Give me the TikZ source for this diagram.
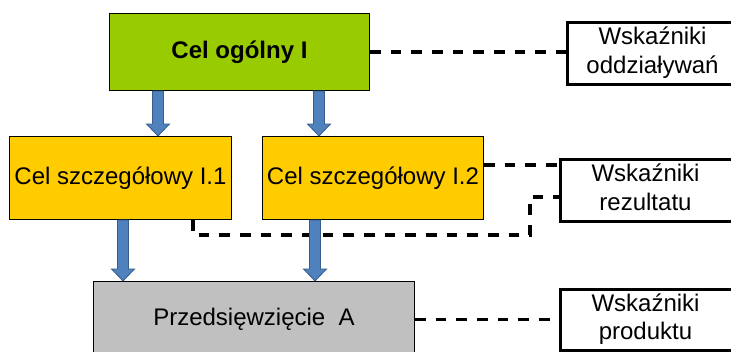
\documentclass[tikz,border=0pt]{standalone}
\usepackage{fontspec}
\setmainfont{Liberation Sans}
\usetikzlibrary{calc}
\definecolor{cgreen}{HTML}{99CC00}
\definecolor{cyellow}{HTML}{FFCC00}
\definecolor{cgray}{HTML}{C0C0C0}
\definecolor{cblue}{HTML}{4F81BD}
\definecolor{cblueline}{HTML}{385D8A}
\newcommand{\twolines}[2]{\begin{tabular}{@{}c@{}}#1\\#2\end{tabular}\hspace*{23pt}\null}
\begin{document}
\begin{tikzpicture}[x=0.75pt,y=-0.75pt,
  every node/.style={font=\fontsize{18}{21.5}\selectfont, inner sep=0pt},
  goal/.style={draw=black, line width=0.75pt, anchor=north west},
  indic/.style={draw=black, line width=2pt, anchor=north west, minimum width=150.75pt},
  dashline/.style={draw=black, line width=2.3pt, dash pattern=on 8pt off 7.5pt},
  blockarrow/.style={fill=cblue, draw=cblueline, line width=0.6pt, line join=miter,
    to path={let \p1=(\tikztostart), \p2=(\tikztotarget) in
      (\x1-4.1pt,\y1) -- (\x1+4.1pt,\y1) -- (\x1+4.1pt,\y2+9pt) -- (\x1+8.6pt,\y2+9pt)
      -- (\x1,\y2) -- (\x1-8.6pt,\y2+9pt) -- (\x1-4.1pt,\y2+9pt) -- cycle}}
]
\clip (0,0) rectangle (731,351);
% goal boxes
\node[goal, fill=cgreen, minimum width=195pt, minimum height=57.75pt, font=\fontsize{18}{21.5}\selectfont\bfseries] (g) at (109,13) {Cel ogólny I};
\node[goal, fill=cyellow, minimum width=166.5pt, minimum height=62.25pt] (y1) at (9,136) {Cel szczegółowy I.1};
\node[goal, fill=cyellow, minimum width=165.75pt, minimum height=62.25pt] (y2) at (262,136) {Cel szczegółowy I.2};
\node[goal, fill=cgray, minimum width=240.75pt, minimum height=57pt] (p) at (93,281) {Przedsięwzięcie\ \ A};
% indicator boxes
\node[indic, minimum height=46.5pt] (w1) at (566,21) {\twolines{Wskaźniki}{oddziaływań}};
\node[indic, minimum height=46.5pt] (w2) at (559,158) {\twolines{Wskaźniki}{rezultatu}};
\node[indic, minimum height=45.75pt] (w3) at (559,288) {\twolines{Wskaźniki}{produktu}};
% dashed connectors
\draw[dashline] (g.east) -- (w1.west |- g.east);
\draw[dashline] (y2.east |- 0,165) -- (w2.west |- 0,165);
\draw[dashline] (y1.south -| 193,0) |- (530,235) |- (w2.west |- 0,197);
\draw[dashline] (p.east) -- (w3.west |- p.east);
% block arrows
\draw[blockarrow] (g.south -| 158,0) to (y1.north -| 158,0);
\draw[blockarrow] (g.south -| 319,0) to (y2.north -| 319,0);
\draw[blockarrow] (y1.south -| 123,0) to (p.north -| 123,0);
\draw[blockarrow] (y2.south -| 315,0) to (p.north -| 315,0);
\end{tikzpicture}
\end{document}
